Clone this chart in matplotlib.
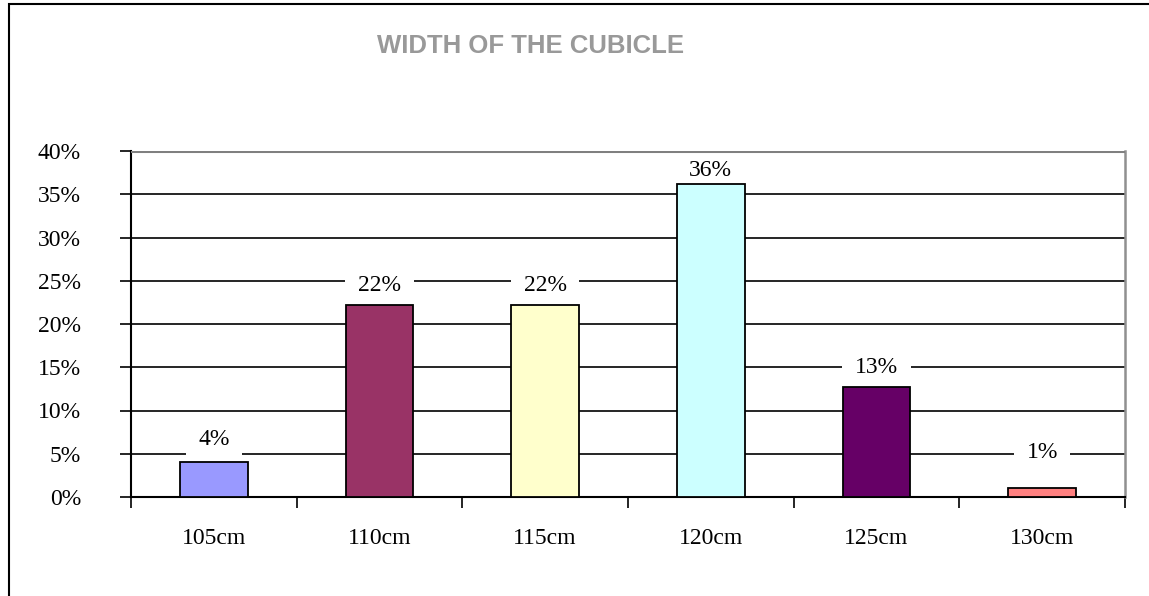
import matplotlib
matplotlib.use("Agg")
import matplotlib.pyplot as plt
from matplotlib.patches import Rectangle
from matplotlib.ticker import FixedLocator, NullFormatter

categories = ["105cm", "110cm", "115cm", "120cm", "125cm", "130cm"]
values = [4.1, 22.2, 22.2, 36.2, 12.7, 1.0]
labels = ["4%", "22%", "22%", "36%", "13%", "1%"]
colors = ["#9999FF", "#993366", "#FFFFCC", "#CCFFFF", "#660066", "#FF8080"]
yticks = [0, 5, 10, 15, 20, 25, 30, 35, 40]
title = "WIDTH OF THE CUBICLE"

# style: label offsets above bar tops, in pixels
label_offsets_px = [22, 19, 19, 13, 20, 36]

fig = plt.figure(figsize=(11.49, 5.96), dpi=100)
fig.patches.append(Rectangle((9/1149, -0.01), 1 - 9/1149 + 0.01, 1 - 4/596 + 0.01, transform=fig.transFigure,
                             fill=False, edgecolor="black", linewidth=1.5, zorder=10))

ax = fig.add_axes([131/1149, 99/596, (1125-131)/1149, (497-151)/596])
x = list(range(len(categories)))
ax.bar(x, values, width=0.41, color=colors, edgecolor="black", linewidth=1.3, zorder=3)
ax.set_xlim(-0.5, len(categories) - 0.5)
ax.set_ylim(0, 40)

ax.set_yticks(yticks)
ax.set_yticklabels([f"{v}%" for v in yticks], family="Liberation Serif", fontsize=17)
for v in yticks[1:-1]:
    ax.axhline(v, color="black", linewidth=1.2, zorder=1)
ax.axhline(40, color="#808080", linewidth=2.2, zorder=5)

ax.xaxis.set_major_locator(FixedLocator([i - 0.5 for i in range(len(categories) + 1)]))
ax.xaxis.set_major_formatter(NullFormatter())
ax.xaxis.set_minor_locator(FixedLocator(x))
ax.set_xticklabels(categories, minor=True, family="Liberation Serif", fontsize=17)
ax.tick_params(axis="x", which="minor", length=0, pad=22)
ax.tick_params(axis="x", which="major", length=8, width=1.2, direction="out")
ax.tick_params(axis="y", length=8, width=1.2, direction="out", pad=28)

for s in ["left", "bottom"]:
    ax.spines[s].set_color("black")
    ax.spines[s].set_linewidth(1.5)
ax.spines["top"].set_visible(False)
ax.spines["right"].set_color("#909090")
ax.spines["right"].set_linewidth(1.8)

for xi, v, lab, off in zip(x, values, labels, label_offsets_px):
    ax.annotate(lab, (xi, v), xytext=(0, off), textcoords="offset pixels",
                ha="center", va="center", family="Liberation Serif", fontsize=17, zorder=2,
                bbox=dict(facecolor="white", edgecolor="none", pad=9))

fig.text(531/1149, 1 - 46/596, title, ha="center", va="center", family="Liberation Sans",
         fontweight="bold", fontsize=18.5, color="#999999")

fig.savefig("out.png", dpi=100)
